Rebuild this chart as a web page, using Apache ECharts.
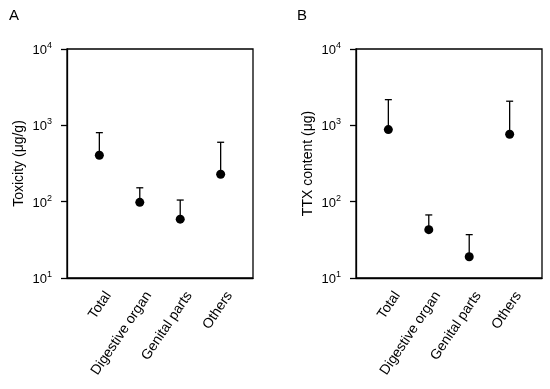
<!DOCTYPE html>
<html><head><meta charset="utf-8">
<script src="https://cdn.jsdelivr.net/npm/echarts@6/dist/echarts.min.js"></script>
<style>html,body{margin:0;padding:0;background:#fff}#c{width:550px;height:389px}</style>
</head><body><div id="c"></div>
<script>
var categories = ['Total', 'Digestive organ', 'Genital parts', 'Others'];
var toxicityMean = [406, 98, 59, 229];
var toxicityUpper = [802, 152, 105, 600];
var ttxMean = [879, 43, 19, 764];
var ttxUpper = [2170, 67, 37, 2070];
var yTicks = [10, 100, 1000, 10000];

var chart = echarts.init(document.getElementById('c'));
var font = 'Liberation Sans, Arial, sans-serif';
var labelShift = 0.22;
function pts(arr){ return arr.map(function(v,i){ return [i+1, v]; }); }
function errData(mean, up){ return mean.map(function(v,i){ return [i+1, v, up[i]]; }); }
function errRender(params, api){
  var x = api.value(0);
  var p0 = api.coord([x, api.value(1)]);
  var p1 = api.coord([x, api.value(2)]);
  var st = {stroke:'#000', lineWidth:1.3};
  return {type:'group', children:[
    {type:'line', shape:{x1:p0[0], y1:p0[1], x2:p1[0], y2:p1[1]}, style:st},
    {type:'line', shape:{x1:p1[0]-3.5, y1:p1[1], x2:p1[0]+3.5, y2:p1[1]}, style:st}
  ]};
}
function xAx(idx){
  return {type:'value', gridIndex:idx, min:0.2, max:4.8,
    axisLine:{show:true, lineStyle:{color:'#000', width:1.3}},
    axisTick:{show:false}, splitLine:{show:false},
    axisLabel:{customValues:categories.map(function(c,i){ return i+1+labelShift; }),
      rotate:56, margin:15, color:'#000', fontSize:14, fontFamily:font,
      formatter:function(v){ return categories[Math.round(v - labelShift)-1] || ''; }}};
}
function yAx(idx, name){
  return {type:'log', logBase:10, gridIndex:idx, min:10, max:10000,
    name:name, nameLocation:'middle', nameGap:41, nameRotate:90,
    nameTextStyle:{color:'#000', fontSize:14, fontFamily:font},
    axisLine:{show:true, lineStyle:{color:'#000', width:1.3}},
    axisTick:{show:true, inside:false, length:6, lineStyle:{color:'#000', width:1.3}},
    minorTick:{show:false}, splitLine:{show:false},
    axisLabel:{margin:15, color:'#000', fontFamily:font,
      customValues: yTicks,
      formatter:function(v){ var e=Math.round(Math.log10(v)); return '{b|10}{s|'+e+'}'; },
      rich:{b:{fontSize:13, fontFamily:font, color:'#000', lineHeight:16, verticalAlign:'bottom'},
            s:{fontSize:9, fontFamily:font, color:'#000', lineHeight:16, verticalAlign:'top', padding:[0,0,8,0]}}}};
}
chart.setOption({
  animation:false,
  graphic:[
    {type:'text', left:9, top:8, style:{text:'A', fontSize:15, fontFamily:font, fill:'#000'}},
    {type:'text', left:297, top:8, style:{text:'B', fontSize:15, fontFamily:font, fill:'#000'}}
  ],
  grid:[
    {left:67, top:49, width:186, height:229, show:true, borderColor:'#000', borderWidth:1.3, backgroundColor:'transparent'},
    {left:356, top:49, width:186, height:229, show:true, borderColor:'#000', borderWidth:1.3, backgroundColor:'transparent'}
  ],
  xAxis:[xAx(0), xAx(1)],
  yAxis:[yAx(0,'Toxicity (\u03bcg/g)'), yAx(1,'TTX content (\u03bcg)')],
  series:[
    {type:'custom', xAxisIndex:0, yAxisIndex:0, data:errData(toxicityMean, toxicityUpper), renderItem:errRender, z:2},
    {type:'custom', xAxisIndex:1, yAxisIndex:1, data:errData(ttxMean, ttxUpper), renderItem:errRender, z:2},
    {type:'scatter', xAxisIndex:0, yAxisIndex:0, data:pts(toxicityMean), symbol:'circle', symbolSize:9, itemStyle:{color:'#000', opacity:1}, z:3},
    {type:'scatter', xAxisIndex:1, yAxisIndex:1, data:pts(ttxMean), symbol:'circle', symbolSize:9, itemStyle:{color:'#000', opacity:1}, z:3}
  ]
});
</script></body></html>
